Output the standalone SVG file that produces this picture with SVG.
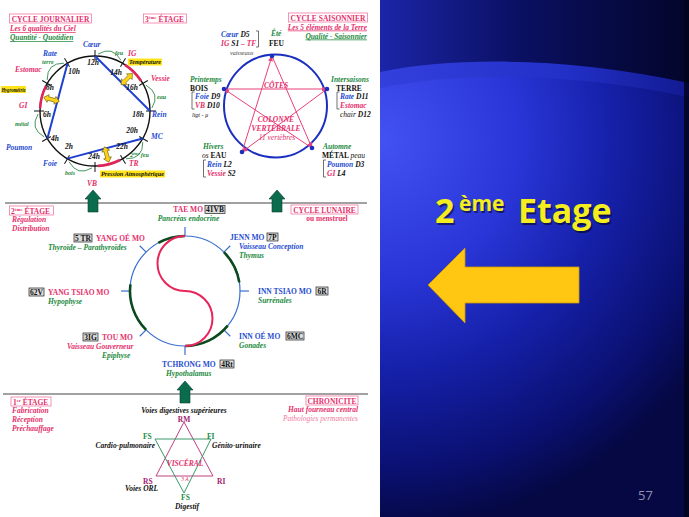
<svg xmlns="http://www.w3.org/2000/svg" width="689" height="517" viewBox="0 0 689 517">
<defs>
<style>
text { font-family: "Liberation Serif", "Times New Roman", serif; font-weight: bold; font-size: 7.5px; }
.i { font-style: italic; }
.pk { fill: #e6306c; }
.bl { fill: #1f4ccf; }
.gr { fill: #1d8a3e; }
.bk { fill: #111; }
.pu { fill: #a3206f; }
.lp { fill: #f07aa0; font-weight: normal; }
.n { font-weight: normal; }
.f7 { font-size: 7.4px; }
.sm { font-size: 6px; }
.xs { font-size: 5.5px; }
.c { text-anchor: middle; }
.e { text-anchor: end; }
.box { fill: #dcdcdc; stroke: #222; stroke-width: 0.7; }
.hbox { fill: none; stroke: #f07aa5; stroke-width: 0.8; }
.hl { fill: #ffe41a; }
.tick { stroke: #111; stroke-width: 1; }
.btick { stroke: #3a6fd0; stroke-width: 1.2; }
.gArc { fill: none; stroke: #2f8a4a; stroke-width: 0.9; }
.rArc { fill: none; stroke: #e0245a; stroke-width: 2.6; }
.bLine { stroke: #1f3fd0; stroke-width: 2; }
.star { stroke: #e8407a; stroke-width: 1; fill: none; marker-end: url(#ah); }
.dArc { fill: none; stroke: #0b4a1e; stroke-width: 2.6; }
.hd { font-family: "Open Sans", "Liberation Sans", sans-serif; font-weight: bold; font-style: normal; }
.big { font-size: 34px; }
.sup { font-size: 21px; }
.pg { font-size: 13px; font-weight: normal; fill: #9090b0; }
</style>
<marker id="ah" viewBox="0 0 10 10" refX="9" refY="5" markerWidth="6" markerHeight="6" orient="auto">
<path d="M0,1 L10,5 L0,9 Z" fill="#e8407a"/>
</marker>
<polygon id="garrow" points="0,0 8,9 5,9 5,22 -5,22 -5,9 -8,9" fill="#0b6b4d" stroke="#064030" stroke-width="0.6"/>
<polygon id="ya" points="0,-8 4,-3.5 1.8,-3.5 1.8,3.5 4,3.5 0,8 -4,3.5 -1.8,3.5 -1.8,-3.5 -4,-3.5" fill="#ffd21a" stroke="#6a5a00" stroke-width="0.6"/>
<radialGradient id="bgMain" cx="380" cy="140" r="390" gradientUnits="userSpaceOnUse">
<stop offset="0" stop-color="#4352f2"/>
<stop offset="0.35" stop-color="#2a36d8"/>
<stop offset="0.6" stop-color="#1520a8"/>
<stop offset="0.85" stop-color="#0a1070"/>
<stop offset="1" stop-color="#050842"/>
</radialGradient>
<linearGradient id="bgTop" x1="0" y1="0" x2="1" y2="0">
<stop offset="0" stop-color="#1b25a8"/>
<stop offset="0.45" stop-color="#0a1062"/>
<stop offset="1" stop-color="#03052a"/>
</linearGradient>
<linearGradient id="band" x1="0" y1="0" x2="1" y2="0">
<stop offset="0" stop-color="#3440dc"/>
<stop offset="0.6" stop-color="#2230c8"/>
<stop offset="1" stop-color="#121a90"/>
</linearGradient>
</defs>

<!-- panels -->
<rect x="0" y="0" width="380" height="517" fill="#ffffff"/>
<g id="right-panel">
<rect x="380" y="0" width="309" height="517" fill="url(#bgMain)"/>
<path d="M380,72 C450,58 560,55 689,83 L689,97 C560,70 450,73 380,88 Z" fill="url(#band)"/>
<path d="M380,0 L689,0 L689,83 C560,55 450,58 380,72 Z" fill="url(#bgTop)"/>
<rect x="684" y="0" width="5" height="517" fill="#02031a" opacity="0.8"/>
<text class="hd big" x="436.5" y="224.5" fill="#000" opacity="0.5">2</text>
<text class="hd sup" x="460.5" y="212.5" fill="#000" opacity="0.5">ème</text>
<text class="hd big" x="519.5" y="224.5" fill="#000" opacity="0.5">Etage</text>
<text class="hd big" x="435" y="223" fill="#f5ee1f">2</text>
<text class="hd sup" x="459" y="211" fill="#f5ee1f">ème</text>
<text class="hd big" x="518" y="223" fill="#f5ee1f">Etage</text>
<polygon id="yellow-arrow" points="428,285 465,248 465,267 579,267 579,303 465,303 465,323" fill="#ffc612" stroke="#c99a00" stroke-width="0.8"/>
<text class="hd pg" x="638" y="500">57</text>
</g>

<!-- separators -->
<g id="separators" stroke="#444" stroke-width="1">
<line x1="5" y1="203" x2="367" y2="203"/>
<line x1="3" y1="394" x2="368" y2="394"/>
</g>
<g id="stage-arrows">
<use href="#garrow" transform="translate(93,190)"/>
<use href="#garrow" transform="translate(277,190)"/>
<use href="#garrow" transform="translate(185,381)"/>
</g>

<!-- ========== CYCLE JOURNALIER ========== -->
<g id="cycle-journalier-header">
<rect class="hbox" x="9.5" y="14" width="82" height="9"/>
<text class="pk c" x="50.5" y="21.5">CYCLE JOURNALIER</text>
<text class="pk i f7" x="10" y="31" text-decoration="underline">Les 6 qualités du Ciel</text>
<text class="gr i f7" x="10" y="40" text-decoration="underline">Quantité - Quotidien</text>
<rect class="hbox" x="143.5" y="14" width="43" height="9"/>
<text class="pk" x="145" y="21.5">3<tspan font-size="4.5" dy="-2.8">ème</tspan><tspan dy="2.8"> ÉTAGE</tspan></text>
</g>

<g id="cycle-journalier">
<circle cx="95" cy="111" r="55" fill="none" stroke="#111" stroke-width="1.4"/>
<g class="tick">
<line x1="0" y1="-51" x2="0" y2="-61" transform="translate(95,111) rotate(0)"/>
<line x1="0" y1="-51" x2="0" y2="-61" transform="translate(95,111) rotate(30)"/>
<line x1="0" y1="-51" x2="0" y2="-61" transform="translate(95,111) rotate(60)"/>
<line x1="0" y1="-51" x2="0" y2="-61" transform="translate(95,111) rotate(90)"/>
<line x1="0" y1="-51" x2="0" y2="-61" transform="translate(95,111) rotate(120)"/>
<line x1="0" y1="-51" x2="0" y2="-61" transform="translate(95,111) rotate(150)"/>
<line x1="0" y1="-51" x2="0" y2="-61" transform="translate(95,111) rotate(180)"/>
<line x1="0" y1="-51" x2="0" y2="-61" transform="translate(95,111) rotate(210)"/>
<line x1="0" y1="-51" x2="0" y2="-61" transform="translate(95,111) rotate(240)"/>
<line x1="0" y1="-51" x2="0" y2="-61" transform="translate(95,111) rotate(270)"/>
<line x1="0" y1="-51" x2="0" y2="-61" transform="translate(95,111) rotate(300)"/>
<line x1="0" y1="-51" x2="0" y2="-61" transform="translate(95,111) rotate(330)"/>
</g>
<path class="rArc" d="M125,64.9 A55,55 0 0 1 141.1,81"/>
<path class="rArc" d="M40.1,108.1 A55,55 0 0 1 46,86"/>
<path class="rArc" d="M120,160 A55,55 0 0 1 97.9,165.9"/>
<g class="bLine">
<line x1="95" y1="56" x2="150" y2="111"/>
<line x1="67.5" y1="63.4" x2="47.4" y2="138.5"/>
<line x1="67.5" y1="158.6" x2="142.6" y2="138.5"/>
</g>
<path class="gArc" d="M98,54.1 Q112.6,45.3 120.9,60.2"/>
<path class="gArc" d="M145.8,85.1 Q160.7,93.4 151.9,108"/>
<path class="gArc" d="M142.8,142.1 Q143.1,159.1 126,158.8"/>
<path class="gArc" d="M92,167.9 Q77.4,176.7 69.1,161.8"/>
<path class="gArc" d="M44.2,136.9 Q29.3,128.6 38.1,114"/>
<path class="gArc" d="M47.2,79.9 Q46.9,62.9 63.9,63.2"/>
<use href="#ya" transform="translate(126.8,79.2) rotate(45)"/>
<use href="#ya" transform="translate(51.5,99.4) rotate(285)"/>
<use href="#ya" transform="translate(106.6,154.5) rotate(165)"/>
<g class="bk i sm c">
<text x="93" y="65">12h</text>
<text x="116" y="75">14h</text>
<text x="132" y="90">16h</text>
<text x="138" y="117">18h</text>
<text x="132" y="133">20h</text>
<text x="122" y="149">22h</text>
<text x="94" y="159">24h</text>
<text x="69" y="149">2h</text>
<text x="55" y="141">4h</text>
<text x="47" y="117">6h</text>
<text x="50" y="90">8h</text>
<text x="74" y="74">10h</text>
</g>
<g class="i">
<text class="bl" x="83" y="47">Cœur</text>
<text class="gr sm" x="115" y="55">feu</text>
<text class="pk" x="128" y="56">IG</text>
<rect class="hl" x="128" y="58.5" width="34" height="7"/>
<text class="bk xs" x="129" y="64" textLength="32" lengthAdjust="spacingAndGlyphs">Température</text>
<text class="pk" x="151" y="81">Vessie</text>
<text class="gr sm" x="157" y="99">eau</text>
<text class="bl" x="152" y="117">Rein</text>
<text class="bl" x="151" y="139">MC</text>
<text class="gr sm" x="130" y="157">2<tspan font-size="3.8" dy="-2">ème</tspan><tspan dy="2"> feu</tspan></text>
<text class="pk" x="129" y="166">TR</text>
<rect class="hl" x="100" y="170.5" width="65" height="7"/>
<text class="bk xs" x="101" y="176" textLength="63" lengthAdjust="spacingAndGlyphs">Pression Atmosphérique</text>
<text class="pk" x="87" y="185.5">VB</text>
<text class="gr sm" x="65" y="175">bois</text>
<text class="bl" x="43" y="166">Foie</text>
<text class="bl" x="6" y="150">Poumon</text>
<text class="gr sm" x="15" y="126">métal</text>
<text class="pk" x="19" y="108">GI</text>
<rect class="hl" x="1" y="86" width="25" height="7"/>
<text class="bk xs" x="1.5" y="91.5" textLength="24" lengthAdjust="spacingAndGlyphs">Hygrométrie</text>
<text class="pk" x="15" y="72">Estomac</text>
<text class="gr sm" x="42" y="64">terre</text>
<text class="bl" x="43" y="56">Rate</text>
</g>
</g>

<!-- ========== CYCLE SAISONNIER ========== -->
<g id="cycle-saisonnier-header">
<rect class="hbox" x="288.5" y="13" width="79" height="9"/>
<text class="pk c" x="328" y="20.5">CYCLE SAISONNIER</text>
<text class="pk i e f7" x="367" y="29.5" text-decoration="underline">Les 5 éléments de la Terre</text>
<text class="gr i e f7" x="367" y="38.5" text-decoration="underline">Qualité - Saisonnier</text>
</g>

<g id="cycle-saisonnier">
<circle cx="275.5" cy="106" r="51.5" fill="none" stroke="#1a2fc0" stroke-width="2"/>
<line class="star" x1="224" y1="89" x2="327" y2="89"/>
<line class="star" x1="327" y1="89" x2="242" y2="152"/>
<line class="star" x1="242" y1="152" x2="272" y2="56"/>
<line class="star" x1="272" y1="56" x2="312" y2="148"/>
<line class="star" x1="312" y1="148" x2="224" y2="89"/>
<g fill="#1a2fc0">
<circle cx="272" cy="56" r="2.3"/>
<circle cx="327" cy="89" r="2.3"/>
<circle cx="312" cy="148" r="2.3"/>
<circle cx="242" cy="152" r="2.3"/>
<circle cx="224" cy="89" r="2.3"/>
</g>
<text class="pk c i" x="276" y="88">CÔTES</text>
<text class="pk c i" x="276" y="122">COLONNE</text>
<text class="pk c i" x="276" y="131">VERTÉBRALE</text>
<text class="pk c i n" x="277" y="140">11 vertèbres</text>
<g class="i">
<text x="221" y="37"><tspan class="bl">Cœur</tspan><tspan class="bk"> D5</tspan></text>
<text x="221" y="46"><tspan class="pk">IG</tspan><tspan class="bk"> S1</tspan><tspan class="pk"> – TF</tspan></text>
<text class="sm n" x="230" y="55" fill="#444">vaisseaux</text>
<text class="gr" x="271" y="36">Été</text>
<text class="gr" x="190" y="82">Printemps</text>
<text x="195" y="99"><tspan class="bl">Foie</tspan><tspan class="bk"> D9</tspan></text>
<text x="195" y="108"><tspan class="pk">VB</tspan><tspan class="bk"> D10</tspan></text>
<text class="bk sm n" x="192" y="117">ligt - µ</text>
<text class="gr" x="331" y="82">Intersaisons</text>
<text x="340" y="99"><tspan class="bl">Rate</tspan><tspan class="bk"> D11</tspan></text>
<text class="pk" x="340" y="108">Estomac</text>
<text x="340" y="117"><tspan class="bk n">chair</tspan><tspan class="bk"> D12</tspan></text>
<text class="gr" x="203" y="149">Hivers</text>
<text x="207" y="167"><tspan class="bl">Rein</tspan><tspan class="bk"> L2</tspan></text>
<text x="207" y="176"><tspan class="pk">Vessie</tspan><tspan class="bk"> S2</tspan></text>
<text class="gr" x="323" y="149">Automne</text>
<text x="327" y="167"><tspan class="bl">Poumon</tspan><tspan class="bk"> D3</tspan></text>
<text x="327" y="176"><tspan class="pk">GI</tspan><tspan class="bk"> L4</tspan></text>
</g>
<text class="bk" x="269" y="46">FEU</text>
<text class="bk" x="190" y="90.5">BOIS</text>
<text class="bk" x="336" y="90.5">TERRE</text>
<text class="bk" x="202" y="158"><tspan class="i n">os</tspan> EAU</text>
<text class="bk" x="322" y="158">MÉTAL <tspan class="i n">peau</tspan></text>
<g fill="none" stroke="#333" stroke-width="0.7">
<path d="M256,31 h2.5 v16 h-2.5"/>
<path d="M194.5,92 h-2.5 v17 h2.5"/>
<path d="M339.5,92 h-2.5 v17 h2.5"/>
<path d="M206,160 h-2.5 v17 h2.5"/>
<path d="M326,160 h-2.5 v17 h2.5"/>
</g>
</g>

<!-- ========== 2EME ETAGE ========== -->
<g id="etage2-header">
<rect class="hbox" x="9.5" y="206" width="44" height="9"/>
<text class="pk" x="11" y="213.5">2<tspan font-size="4.5" dy="-2.8">ème</tspan><tspan dy="2.8"> ÉTAGE</tspan></text>
<text class="pk i" x="12" y="222">Régulation</text>
<text class="pk i" x="12" y="231">Distribution</text>
<rect class="hbox" x="291" y="205" width="67" height="9"/>
<text class="pk c" x="324.5" y="212.5">CYCLE LUNAIRE</text>
<text class="pk c f7" x="327" y="221">ou menstruel</text>
</g>

<g id="cycle-lunaire">
<circle cx="185" cy="291" r="55" fill="none" stroke="#3a6fd0" stroke-width="1.2"/>
<g class="btick">
<line x1="0" y1="-55" x2="0" y2="-64" transform="translate(185,291) rotate(0)"/>
<line x1="0" y1="-55" x2="0" y2="-64" transform="translate(185,291) rotate(45)"/>
<line x1="0" y1="-55" x2="0" y2="-64" transform="translate(185,291) rotate(90)"/>
<line x1="0" y1="-55" x2="0" y2="-64" transform="translate(185,291) rotate(135)"/>
<line x1="0" y1="-55" x2="0" y2="-64" transform="translate(185,291) rotate(180)"/>
<line x1="0" y1="-55" x2="0" y2="-64" transform="translate(185,291) rotate(225)"/>
<line x1="0" y1="-55" x2="0" y2="-64" transform="translate(185,291) rotate(270)"/>
<line x1="0" y1="-55" x2="0" y2="-64" transform="translate(185,291) rotate(315)"/>
</g>
<path class="dArc" d="M158.3,242.9 A55,55 0 0 1 185,236"/>
<path class="dArc" d="M223.9,252.1 A55,55 0 0 1 239.3,282.4"/>
<path class="dArc" d="M227.7,325.6 A55,55 0 0 1 185,346"/>
<path class="dArc" d="M146.1,329.9 A55,55 0 0 1 130.4,284.3"/>
<path d="M185,236 A27.5,27.5 0 0 0 185,291 A27.5,27.5 0 0 1 185,346" fill="none" stroke="#e8245a" stroke-width="2"/>
</g>

<g id="node-tae-mo">
<text class="pk e" x="203" y="212">TAE MO</text>
<rect class="box" x="205" y="205.5" width="20" height="8"/>
<text class="bk c" x="215" y="212">41VB</text>
<text class="gr i c" x="188.5" y="221">Pancréas endocrine</text>
</g>
<g id="node-yang-oe-mo">
<rect class="box" x="74" y="234" width="18" height="8"/>
<text class="bk c" x="83" y="241">5 TR</text>
<text class="pk" x="96" y="241">YANG OÉ MO</text>
<text class="gr i" x="48" y="250">Thyroïde – Parathyroïdes</text>
</g>
<g id="node-yang-tsiao-mo">
<rect class="box" x="29" y="288" width="15" height="8"/>
<text class="bk c" x="36.5" y="295">62V</text>
<text class="pk" x="48" y="295">YANG TSIAO MO</text>
<text class="gr i" x="48" y="304">Hypophyse</text>
</g>
<g id="node-tou-mo">
<rect class="box" x="83" y="333" width="15" height="8"/>
<text class="bk c" x="90.5" y="340">3IG</text>
<text class="pk" x="102" y="340">TOU MO</text>
<text class="pk i" x="67" y="349">Vaisseau Gouverneur</text>
<text class="gr i" x="102" y="358">Epiphyse</text>
</g>
<g id="node-tchrong-mo">
<text class="bl" x="162" y="367">TCHRONG MO</text>
<rect class="box" x="220" y="360" width="14" height="8"/>
<text class="bk c" x="227" y="367">4Rt</text>
<text class="gr i" x="166" y="376">Hypothalamus</text>
</g>
<g id="node-jenn-mo">
<text class="bl" x="230" y="240">JENN MO</text>
<rect class="box" x="267" y="233" width="11" height="8"/>
<text class="bk c" x="272.5" y="240">7P</text>
<text class="bl i" x="239" y="249">Vaisseau Conception</text>
<text class="gr i" x="239" y="258">Thymus</text>
</g>
<g id="node-inn-tsiao-mo">
<text class="bl" x="258" y="294">INN TSIAO MO</text>
<rect class="box" x="316" y="287" width="12" height="8"/>
<text class="bk c" x="322" y="294">6R</text>
<text class="gr i" x="258" y="303">Surrénales</text>
</g>
<g id="node-inn-oe-mo">
<text class="bl" x="239" y="339">INN OÉ MO</text>
<rect class="box" x="286" y="332" width="18" height="8"/>
<text class="bk c" x="295" y="339">6MC</text>
<text class="gr i" x="239" y="348">Gonades</text>
</g>

<!-- ========== 1ER ETAGE ========== -->
<g id="etage1-header">
<rect class="hbox" x="11" y="397" width="40" height="9"/>
<text class="pk" x="13" y="404.5">1<tspan font-size="4.5" dy="-2.8">er</tspan><tspan dy="2.8"> ÉTAGE</tspan></text>
<text class="pk i" x="12" y="413">Fabrication</text>
<text class="pk i" x="12" y="422">Réception</text>
<text class="pk i" x="12" y="431">Préchauffage</text>
<rect class="hbox" x="306" y="396" width="52" height="9"/>
<text class="pk c" x="332" y="403.5">CHRONICITE</text>
<text class="pk i e" x="358" y="412">Haut fourneau central</text>
<text class="lp i e f7" x="358" y="421">Pathologies permanentes</text>
</g>

<g id="visceral">
<polygon points="184,422 156,476 213,476" fill="none" stroke="#c0407f" stroke-width="1"/>
<polygon points="155,439 211,439 184,493" fill="none" stroke="#3a9a6a" stroke-width="1"/>
<text class="bk i c" x="184" y="412.5">Voies digestives supérieures</text>
<text class="pu c" x="184" y="421.5">RM</text>
<text class="gr" x="143" y="438.5">FS</text>
<text class="gr" x="207" y="438.5">FI</text>
<text class="bk i e" x="155" y="448">Cardio-pulmonaire</text>
<text class="bk i" x="212" y="448">Génito-urinaire</text>
<text class="pk i c" x="185" y="465.5">VISCÉRAL</text>
<text class="pk i c xs n" x="185" y="481">3 A</text>
<text class="pu" x="143" y="483.5">RS</text>
<text class="pu" x="217" y="483.5">RI</text>
<text class="bk i" x="125" y="491">Voies ORL</text>
<text class="gr c" x="185.5" y="500">FS</text>
<text class="bk i c" x="187" y="509">Digestif</text>
</g>
</svg>
